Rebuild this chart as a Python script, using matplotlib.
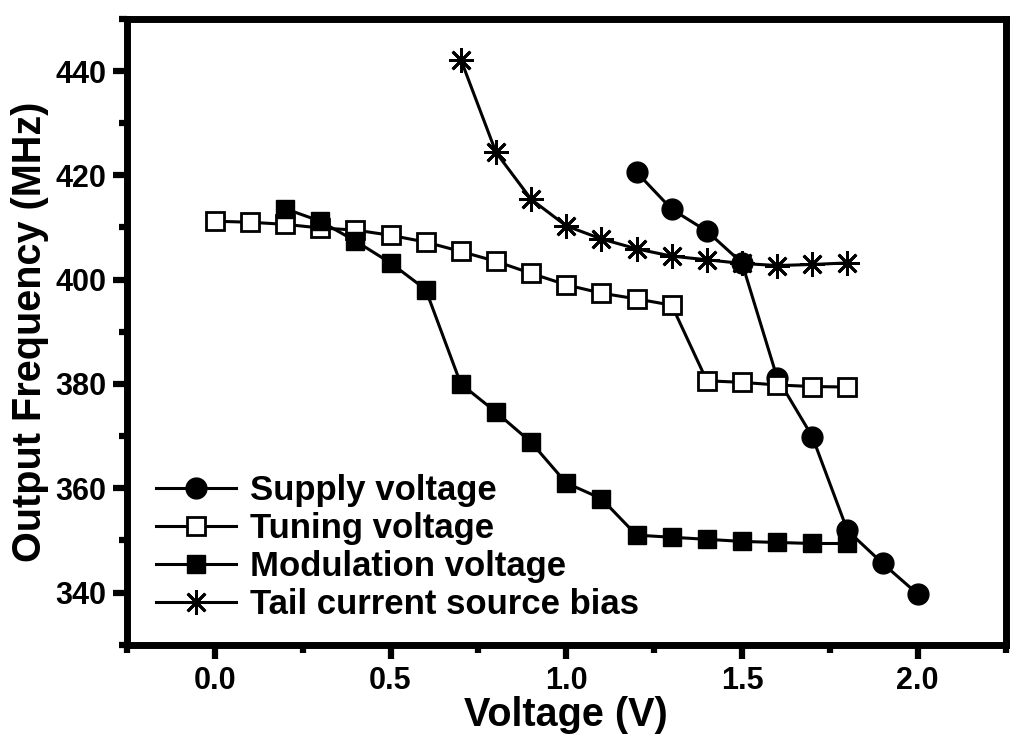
import numpy as np
import matplotlib.pyplot as plt
from matplotlib.ticker import MultipleLocator

# supply voltage sweep
v_supply = [1.2, 1.3, 1.4, 1.5, 1.6, 1.7, 1.8, 1.9, 2.0]
f_supply = [420.6, 413.5, 409.3, 403.2, 381.2, 369.9, 351.9, 345.6, 339.7]

# tuning voltage sweep
v_tuning = [0.0, 0.1, 0.2, 0.3, 0.4, 0.5, 0.6, 0.7, 0.8, 0.9,
            1.0, 1.1, 1.2, 1.3, 1.4, 1.5, 1.6, 1.7, 1.8]
f_tuning = [411.2, 411.0, 410.6, 409.9, 409.5, 408.5, 407.2, 405.4, 403.5, 401.2,
            399.0, 397.4, 396.3, 395.1, 380.6, 380.3, 379.8, 379.5, 379.4]

# modulation voltage sweep
v_mod = [0.2, 0.3, 0.4, 0.5, 0.6, 0.7, 0.8, 0.9, 1.0,
         1.1, 1.2, 1.3, 1.4, 1.5, 1.6, 1.7, 1.8]
f_mod = [413.6, 411.2, 407.4, 403.2, 398.1, 380.0, 374.6, 368.8, 361.0,
         358.0, 351.0, 350.6, 350.2, 349.8, 349.6, 349.4, 349.4]

# tail current source bias sweep
v_tail = [0.7, 0.8, 0.9, 1.0, 1.1, 1.2, 1.3, 1.4, 1.5, 1.6, 1.7, 1.8]
f_tail = [442.2, 424.4, 415.4, 410.3, 407.8, 405.9, 404.5, 403.8, 403.1, 402.7, 402.9, 403.2]

plt.rcParams['font.family'] = ['Liberation Sans', 'DejaVu Sans']
plt.rcParams['font.weight'] = 'bold'


def main():
    fig = plt.figure(figsize=(10.24, 7.54), dpi=100)
    ax = fig.add_axes([0.124, 0.145, 0.858, 0.830])

    lw = 2.2
    ax.plot(v_supply, f_supply, '-o', color='k', lw=lw, ms=15,
            label='Supply voltage', zorder=3)
    ax.plot(v_tuning, f_tuning, '-s', color='k', lw=lw, ms=13, mfc='white',
            mew=2, label='Tuning voltage', zorder=3)
    ax.plot(v_mod, f_mod, '-s', color='k', lw=lw, ms=13,
            label='Modulation voltage', zorder=3)
    ax.plot(v_tail, f_tail, '-', color='k', lw=lw, marker=(8, 2, 0), ms=18,
            mew=2, label='Tail current source bias', zorder=3)

    ax.set_xlim(-0.25, 2.25)
    ax.set_ylim(330, 450)
    ax.xaxis.set_major_locator(MultipleLocator(0.5))
    ax.xaxis.set_minor_locator(MultipleLocator(0.25))
    ax.yaxis.set_major_locator(MultipleLocator(20))
    ax.yaxis.set_minor_locator(MultipleLocator(10))
    ax.set_xticks([0.0, 0.5, 1.0, 1.5, 2.0])
    ax.set_yticks([340, 360, 380, 400, 420, 440])

    for sp in ax.spines.values():
        sp.set_linewidth(5)
    ax.tick_params(which='major', direction='out', length=10, width=4.5,
                   labelsize=22, pad=5)
    ax.tick_params(which='minor', direction='out', length=6, width=4.5)

    ax.set_xlabel('Voltage (V)', fontsize=28.5, fontweight='bold', labelpad=0)
    ax.set_ylabel('Output Frequency (MHz)', fontsize=28.5, fontweight='bold',
                  labelpad=4)

    ax.legend(loc='center left', bbox_to_anchor=(0.033, 0.155), frameon=False,
              fontsize=25, handlelength=2.3, handletextpad=0.4,
              labelspacing=0.15, borderpad=0, borderaxespad=0)

    plt.savefig('out.png', dpi=100)
    plt.close()


if __name__ == "__main__":
    main()
